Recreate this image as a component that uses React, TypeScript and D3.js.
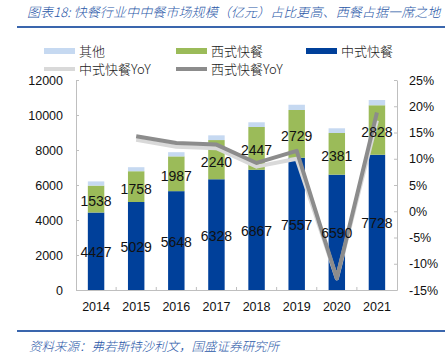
import * as React from 'react';
import * as d3 from 'd3';
import { useRef, useEffect } from 'react';

// chart data
const years = ['2014', '2015', '2016', '2017', '2018', '2019', '2020', '2021'];
const chinese = [4427, 5029, 5648, 6328, 6867, 7557, 6590, 7728];
const western = [1538, 1758, 1987, 2240, 2447, 2729, 2381, 2828];
const other = [240, 230, 240, 270, 270, 300, 270, 300];
// YoY (%), starting 2015
const chineseYoY = [null, 13.6, 12.3, 12.0, 8.5, 10.0, -12.8, 17.3];
const westernYoY = [null, 14.3, 13.0, 12.7, 9.2, 11.5, -12.8, 18.8];
const leftTicks = [0, 2000, 4000, 6000, 8000, 10000, 12000];
const rightTicks = [-15, -10, -5, 0, 5, 10, 15, 20, 25];

const W = 445, H = 358;
const plot = { left: 76, right: 397, top: 80, bottom: 290 };

const colors = {
  chinese: '#00409a',
  western: '#9bbb59',
  other: '#c6d9f1',
  chineseYoY: '#d9d9d9',
  westernYoY: '#8c8c8c',
  axis: '#bfbfbf',
  title: '#2b58a8',
};

const cjk = '"Noto Sans CJK SC", "Noto Sans", sans-serif';
const num = '"Liberation Sans", Arial, sans-serif';

export default function App() {
  const svgRef = useRef<SVGSVGElement>(null);

  useEffect(() => {
    const svg = d3.select(svgRef.current);
    svg.selectAll('*').remove();

    const x = d3.scaleBand<string>()
      .domain(years)
      .range([plot.left, plot.right])
      .paddingInner(0.59)
      .paddingOuter(0.295);
    const yL = d3.scaleLinear().domain([0, 12000]).range([plot.bottom, plot.top]);
    const yR = d3.scaleLinear().domain([-15, 25]).range([plot.bottom, plot.top]);

    // title + rules
    svg.append('text')
      .attr('x', 27).attr('y', 17)
      .attr('font-family', cjk).attr('font-size', 13).attr('font-style', 'italic')
      .attr('font-weight', 300).attr('letter-spacing', 0.1)
      .attr('fill', colors.title)
      .text('图表18:  快餐行业中中餐市场规模（亿元）占比更高、西餐占据一席之地');
    svg.append('line').attr('x1', 17).attr('x2', W).attr('y1', 27).attr('y2', 27)
      .attr('stroke', '#3a66ad').attr('stroke-width', 2);
    svg.append('line').attr('x1', 17).attr('x2', W).attr('y1', 331).attr('y2', 331)
      .attr('stroke', '#3a66ad').attr('stroke-width', 2);
    svg.append('text')
      .attr('x', 29).attr('y', 351)
      .attr('font-family', cjk).attr('font-size', 12.5).attr('font-style', 'italic')
      .attr('font-weight', 300)
      .attr('fill', colors.title)
      .text('资料来源：弗若斯特沙利文，国盛证券研究所');

    // legend
    const leg = svg.append('g').attr('font-family', cjk).attr('font-size', 13)
      .attr('font-weight', 300).attr('fill', '#222');
    const boxes = [
      { label: '其他', color: colors.other, x: 44 },
      { label: '西式快餐', color: colors.western, x: 176 },
      { label: '中式快餐', color: colors.chinese, x: 306 },
    ];
    boxes.forEach(b => {
      leg.append('rect').attr('x', b.x).attr('y', 48).attr('width', 31).attr('height', 6).attr('fill', b.color);
      leg.append('text').attr('x', b.x + 35).attr('y', 56).text(b.label);
    });
    const lines = [
      { label: '中式快餐YoY', color: colors.chineseYoY, x: 44 },
      { label: '西式快餐YoY', color: colors.westernYoY, x: 176 },
    ];
    lines.forEach(l => {
      leg.append('line').attr('x1', l.x).attr('x2', l.x + 31).attr('y1', 69).attr('y2', 69)
        .attr('stroke', l.color).attr('stroke-width', 4);
      leg.append('text').attr('x', l.x + 35).attr('y', 74).text(l.label);
    });

    // stacked bars
    const g = svg.append('g');
    years.forEach((yr, i) => {
      const x0 = x(yr)!;
      const b0 = chinese[i];
      const b1 = b0 + western[i];
      const b2 = b1 + other[i];
      g.append('rect').attr('x', x0).attr('width', x.bandwidth())
        .attr('y', yL(b0)).attr('height', yL(0) - yL(b0)).attr('fill', colors.chinese);
      g.append('rect').attr('x', x0).attr('width', x.bandwidth())
        .attr('y', yL(b1)).attr('height', yL(b0) - yL(b1)).attr('fill', colors.western);
      g.append('rect').attr('x', x0).attr('width', x.bandwidth())
        .attr('y', yL(b2)).attr('height', yL(b1) - yL(b2)).attr('fill', colors.other);
    });

    // axes
    const axisColor = (sel: any) => {
      sel.select('.domain').attr('stroke', colors.axis);
      sel.selectAll('.tick line').attr('stroke', colors.axis);
      sel.selectAll('.tick text').attr('fill', '#111').attr('font-family', num).attr('font-size', 12.5);
    };
    const xAxis = svg.append('g').attr('transform', `translate(0,${plot.bottom})`)
      .call(d3.axisBottom(x).tickSize(0).tickPadding(12).tickSizeOuter(0));
    axisColor(xAxis);
    // inward ticks at band boundaries
    years.forEach((yr, i) => {
      if (i === 0) return;
      const bx = x(yr)! - (x.step() - x.bandwidth()) / 2;
      svg.append('line').attr('x1', bx).attr('x2', bx).attr('y1', plot.bottom).attr('y2', plot.bottom - 3)
        .attr('stroke', colors.axis);
    });

    const leftAxis = svg.append('g').attr('transform', `translate(${plot.left},0)`)
      .call(d3.axisLeft(yL).tickValues(leftTicks).tickSize(-3).tickPadding(13).tickSizeOuter(0)
        .tickFormat(d3.format('d')));
    axisColor(leftAxis);

    const rightAxis = svg.append('g').attr('transform', `translate(${plot.right},0)`)
      .call(d3.axisRight(yR).tickValues(rightTicks).tickSize(-3).tickPadding(12).tickSizeOuter(0)
        .tickFormat(d => `${d}%`));
    axisColor(rightAxis);

    // YoY lines
    const line = d3.line<number | null>()
      .defined(d => d !== null)
      .x((_, i) => x(years[i])! + x.bandwidth() / 2)
      .y(d => yR(d as number));
    svg.append('path').datum(chineseYoY).attr('d', line).attr('fill', 'none')
      .attr('stroke', colors.chineseYoY).attr('stroke-width', 4).attr('stroke-linejoin', 'round');
    svg.append('path').datum(westernYoY).attr('d', line).attr('fill', 'none')
      .attr('stroke', colors.westernYoY).attr('stroke-width', 4).attr('stroke-linejoin', 'round');

    // value labels
    const lbl = svg.append('g').attr('font-family', num).attr('font-size', 14)
      .attr('fill', '#111').attr('text-anchor', 'middle').attr('dominant-baseline', 'central');
    years.forEach((yr, i) => {
      const cx = x(yr)! + x.bandwidth() / 2;
      lbl.append('text').attr('x', cx).attr('y', yL(chinese[i] / 2) + 1).text(chinese[i]);
      lbl.append('text').attr('x', cx).attr('y', yL(chinese[i] + western[i] / 2) + 2).text(western[i]);
    });
  }, []);

  return (
    <svg ref={svgRef} width={W} height={H}
      style={{ position: 'absolute', left: 0, top: 0, background: '#fff' }} />
  );
}
